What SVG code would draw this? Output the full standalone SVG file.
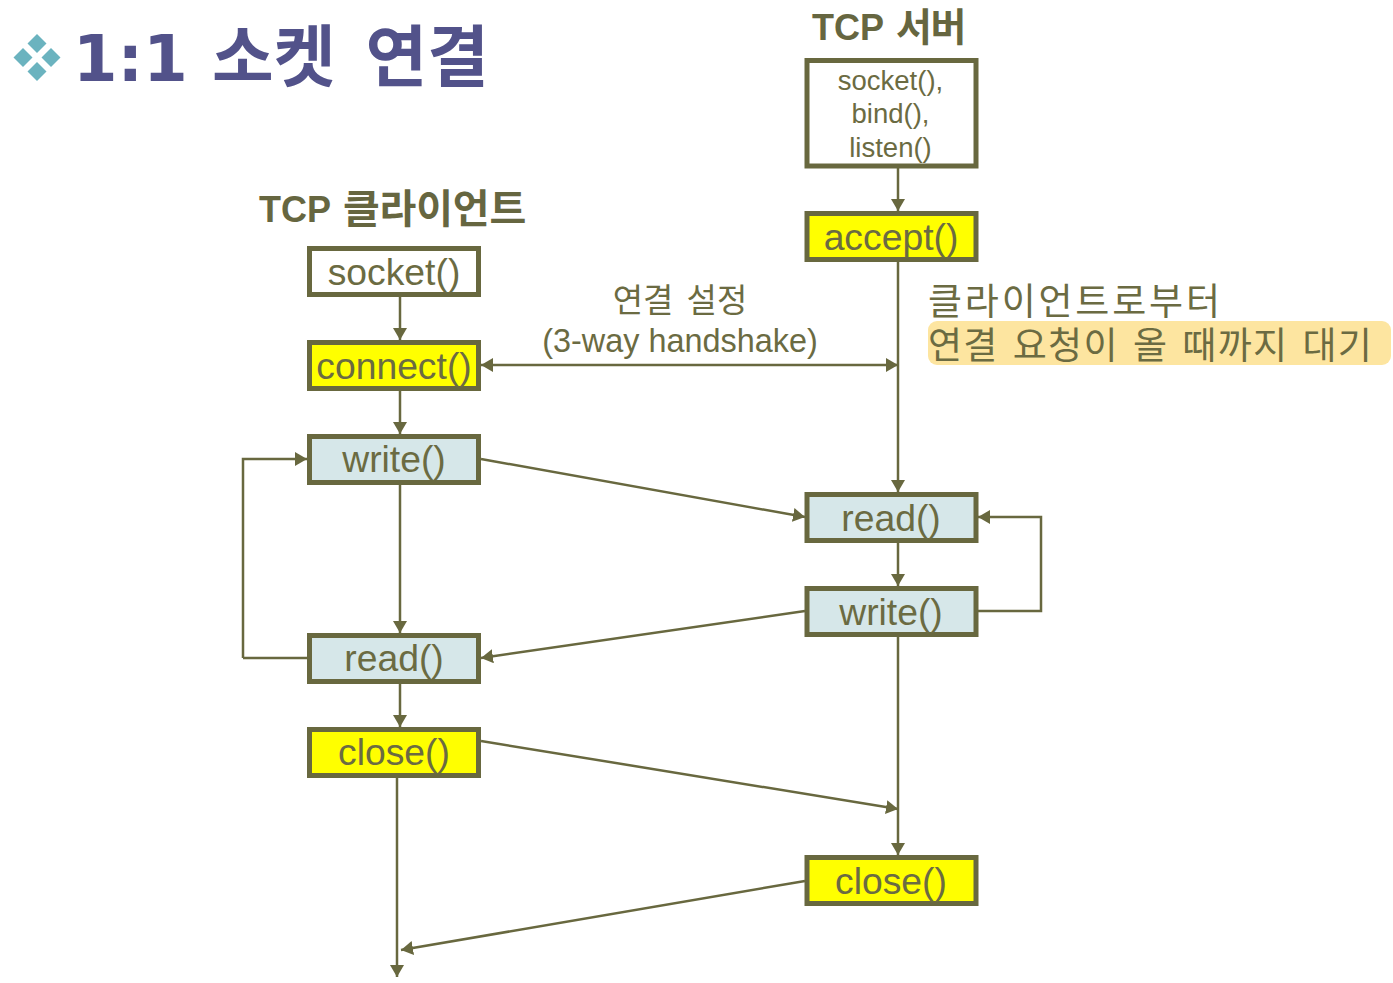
<svg xmlns="http://www.w3.org/2000/svg" width="1393" height="983" viewBox="0 0 1393 983">
<style>
.b{stroke:#68683f;stroke-width:5}
.w{fill:#fff}.y{fill:#ffff00}.l{fill:#d6e7e9}
.t{font-family:"Liberation Sans","Noto Sans CJK KR",sans-serif;fill:#6b6b42;text-anchor:middle;font-size:37.300px}
.s{font-size:27.500px}
.h{font-family:"Liberation Sans","Noto Sans CJK KR",sans-serif;font-weight:bold;fill:#666640;font-size:36px}
.k{font-family:"Noto Sans CJK KR",sans-serif;fill:#6b6b42;font-size:37px}
.c{stroke:#68683f;stroke-width:2.500;fill:none}
.d{fill:#6bb3bf}
</style>
<defs>
<marker id="a" markerUnits="userSpaceOnUse" markerWidth="14" markerHeight="14" refX="12" refY="7" orient="auto-start-reverse"><path d="M0 0L12 7L0 14z" fill="#68683f"/></marker>
</defs>
<rect width="1393" height="983" fill="#fff"/>
<g id="title">
<path class="d" d="M37 34l9.500 9.500l-9.500 9.500l-9.500-9.500z"/>
<path class="d" d="M23 48l9.500 9.500l-9.500 9.500l-9.500-9.500z"/>
<path class="d" d="M51 48l9.500 9.500l-9.500 9.500l-9.500-9.500z"/>
<path class="d" d="M37 62l9.500 9.500l-9.500 9.500l-9.500-9.500z"/>
<text x="73" y="81" font-family="'DejaVu Sans','Noto Sans CJK KR',sans-serif" font-weight="bold" font-size="64" fill="#52528a">1:1</text>
<text x="212" y="81" font-family="'Noto Sans CJK KR',sans-serif" font-weight="bold" font-size="67" fill="#52528a" word-spacing="15">소켓 연결</text>
</g>
<g id="connectors">
<path class="c" marker-end="url(#a)" d="M898 168V211"/>
<path class="c" d="M898 262V365"/>
<path class="c" marker-end="url(#a)" d="M898 365V492"/>
<path class="c" marker-start="url(#a)" marker-end="url(#a)" d="M481 365H898"/>
<path class="c" marker-end="url(#a)" d="M400 297V340"/>
<path class="c" marker-end="url(#a)" d="M400 391V434"/>
<path class="c" marker-end="url(#a)" d="M400 485V633"/>
<path class="c" marker-end="url(#a)" d="M400 684V727"/>
<path class="c" marker-end="url(#a)" d="M243 658V459H307"/>
<path class="c" d="M243 658H307"/>
<path class="c" marker-end="url(#a)" d="M481 459L805 517"/>
<path class="c" marker-end="url(#a)" d="M898 543V586"/>
<path class="c" marker-end="url(#a)" d="M978 611H1041V517H978"/>
<path class="c" marker-end="url(#a)" d="M805 611L481 658"/>
<path class="c" marker-end="url(#a)" d="M898 637V855"/>
<path class="c" marker-end="url(#a)" d="M481 741L898 809"/>
<path class="c" marker-end="url(#a)" d="M397 778V977"/>
<path class="c" marker-end="url(#a)" d="M805 881L401 950"/>
</g>
<g id="label-client"><text class="h" x="259" y="222">TCP<tspan x="343" y="223" font-size="40" letter-spacing="-.2">클라이언트</tspan></text></g>
<g id="label-server"><text class="h" x="812" y="40">TCP<tspan x="896" y="41" font-size="39" letter-spacing="-1.500">서버</tspan></text></g>
<g id="label-setup">
<text class="t" x="680" y="312" style="font-size:33px" word-spacing="4">연결 설정</text>
<text class="t" x="680" y="352" style="font-size:32.400px">(3-way handshake)</text>
</g>
<g id="label-wait">
<rect x="928" y="321" width="463" height="44" rx="9" fill="#fde5a0"/>
<text class="k" x="928" y="315" letter-spacing="2.800">클라이언트로부터</text>
<text class="k" x="928" y="359" letter-spacing="1.300" word-spacing="4.500">연결 요청이 올 때까지 대기</text>
</g>
<g id="s-init"><rect class="b w" x="807" y="60.500" width="169" height="105.500"/>
<text class="t s" x="890.500" y="90">socket(),</text><text class="t s" x="890.500" y="123">bind(),</text><text class="t s" x="890.500" y="157">listen()</text></g>
<g id="s-accept"><rect class="b y" x="807" y="213.500" width="169" height="46"/><text class="t" x="891" y="250">accept()</text></g>
<g id="s-read"><rect class="b l" x="807" y="494.500" width="169" height="46"/><text class="t" x="891" y="531">read()</text></g>
<g id="s-write"><rect class="b l" x="807" y="588.500" width="169" height="46"/><text class="t" x="891" y="625">write()</text></g>
<g id="s-close"><rect class="b y" x="807" y="857.500" width="169" height="46"/><text class="t" x="891" y="894">close()</text></g>
<g id="c-socket"><rect class="b w" x="309.500" y="248.500" width="169" height="46"/><text class="t" x="394" y="285">socket()</text></g>
<g id="c-connect"><rect class="b y" x="309.500" y="342.500" width="169" height="46"/><text class="t" x="394" y="379">connect()</text></g>
<g id="c-write"><rect class="b l" x="309.500" y="436.500" width="169" height="46"/><text class="t" x="394" y="472">write()</text></g>
<g id="c-read"><rect class="b l" x="309.500" y="635.500" width="169" height="46"/><text class="t" x="394" y="671">read()</text></g>
<g id="c-close"><rect class="b y" x="309.500" y="729.500" width="169" height="46"/><text class="t" x="394" y="765">close()</text></g>
</svg>
